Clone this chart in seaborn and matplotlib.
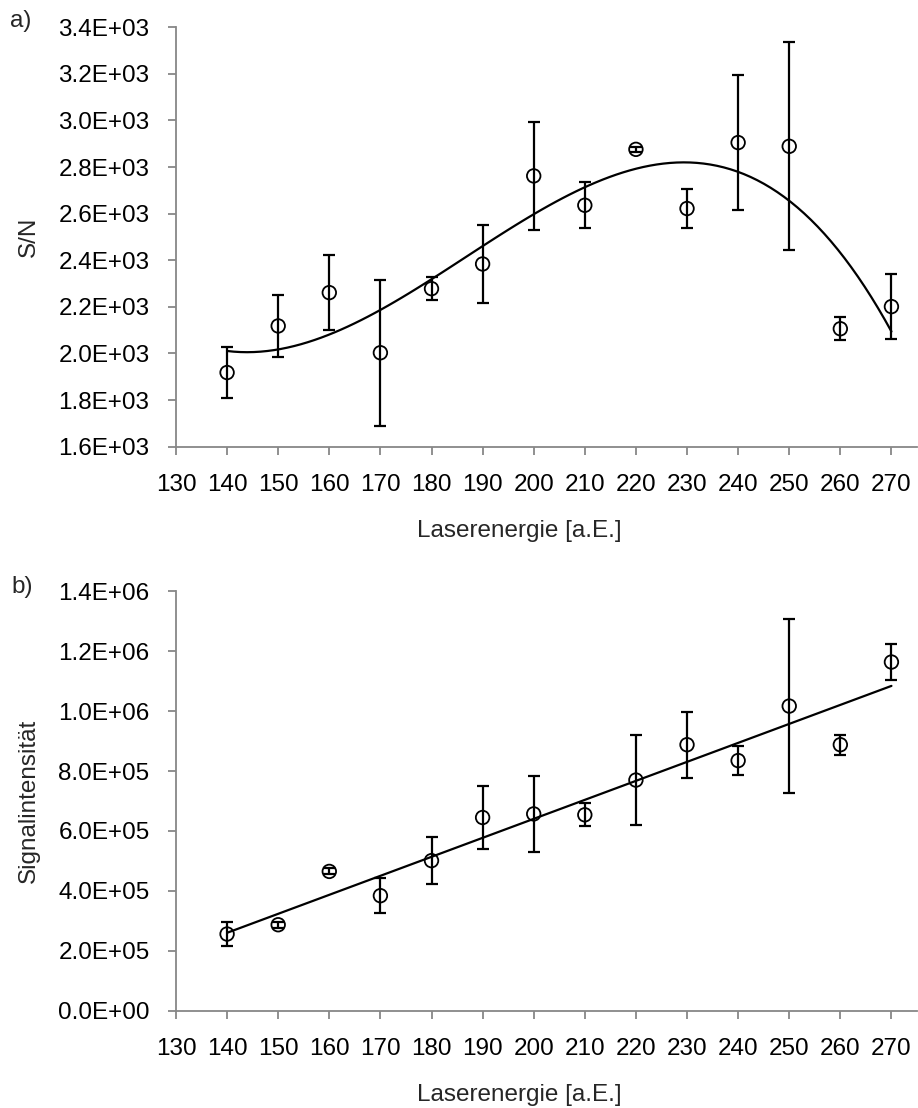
import numpy as np
import pandas as pd
import matplotlib
matplotlib.use("Agg")
import matplotlib.pyplot as plt
from matplotlib.ticker import FuncFormatter, MultipleLocator
import seaborn as sns

# laser energy steps
energie = [140, 150, 160, 170, 180, 190, 200, 210, 220, 230, 240, 250, 260, 270]

# a) signal to noise
sn_mean = [1918, 2118, 2261, 2003, 2278, 2384, 2762, 2636, 2876, 2622, 2905, 2889, 2106, 2201]
sn_err = [108, 134, 160, 313, 50, 168, 233, 98, 10, 82, 289, 447, 50, 140]

# b) signal intensity
int_mean = [256e3, 287e3, 465e3, 384e3, 501e3, 645e3, 657e3, 654e3, 770e3, 888e3, 835e3, 1017e3, 888e3, 1164e3]
int_err = [39e3, 10e3, 10e3, 59e3, 78e3, 104e3, 128e3, 38e3, 150e3, 110e3, 48e3, 290e3, 34e3, 61e3]

df = pd.DataFrame({'energie': energie, 'sn': sn_mean, 'sn_err': sn_err,
                   'intens': int_mean, 'intens_err': int_err})

sns.set_theme(style="ticks")
plt.rcParams['font.family'] = ['Liberation Sans', 'DejaVu Sans']

fig = plt.figure(figsize=(9.18, 11.08), dpi=100)
ax1 = fig.add_axes([0.1917, 0.5969, 0.8072, 0.3785])
ax2 = fig.add_axes([0.1917, 0.0878, 0.8072, 0.3785])

grey = '#878787'
fs = 17.5


def draw(ax, ycol, ecol, order, ylim, ystep, ylabel):
    ax.errorbar(df['energie'], df[ycol], yerr=df[ecol], fmt='none',
                ecolor='black', elinewidth=1.6, capsize=4, capthick=1.6, zorder=2)
    sns.regplot(data=df, x='energie', y=ycol, order=order, scatter=False, ci=None,
                truncate=True, ax=ax, line_kws={'color': 'black', 'lw': 1.6}, n_boot=0)
    sns.scatterplot(data=df, x='energie', y=ycol, ax=ax, marker='o', s=95,
                    facecolor='none', edgecolor='black', linewidth=1.3, zorder=3)
    ax.set_xlim(130, 275)
    ax.set_ylim(*ylim)
    ax.yaxis.set_major_locator(MultipleLocator(ystep))
    ax.set_xticks(range(130, 271, 10))
    ax.yaxis.set_major_formatter(FuncFormatter(lambda v, p: f"{v:.1E}"))
    for s in ['top', 'right']:
        ax.spines[s].set_visible(False)
    for s in ['left', 'bottom']:
        ax.spines[s].set_color(grey)
        ax.spines[s].set_linewidth(1.3)
    ax.tick_params(axis='both', color=grey, width=1.3, length=6, labelsize=fs,
                   labelcolor='black', direction='out')
    ax.tick_params(axis='x', pad=14)
    ax.tick_params(axis='y', pad=13)
    ax.set_xlabel('Laserenergie [a.E.]', fontsize=fs)
    ax.set_ylabel(ylabel, fontsize=fs)
    ax.xaxis.set_label_coords(0.463, -0.175)
    ax.yaxis.set_label_coords(-0.184, 0.5)


draw(ax1, 'sn', 'sn_err', 3, (1600, 3400), 200, 'S/N')
draw(ax2, 'intens', 'intens_err', 1, (0, 1.4e6), 2e5, 'Signalintensität')

fig.text(0.011, 0.9806, 'a)', fontsize=fs, ha='left', va='center')
fig.text(0.013, 0.4705, 'b)', fontsize=fs, ha='left', va='center')

fig.savefig('out.png', dpi=100, facecolor='white')
